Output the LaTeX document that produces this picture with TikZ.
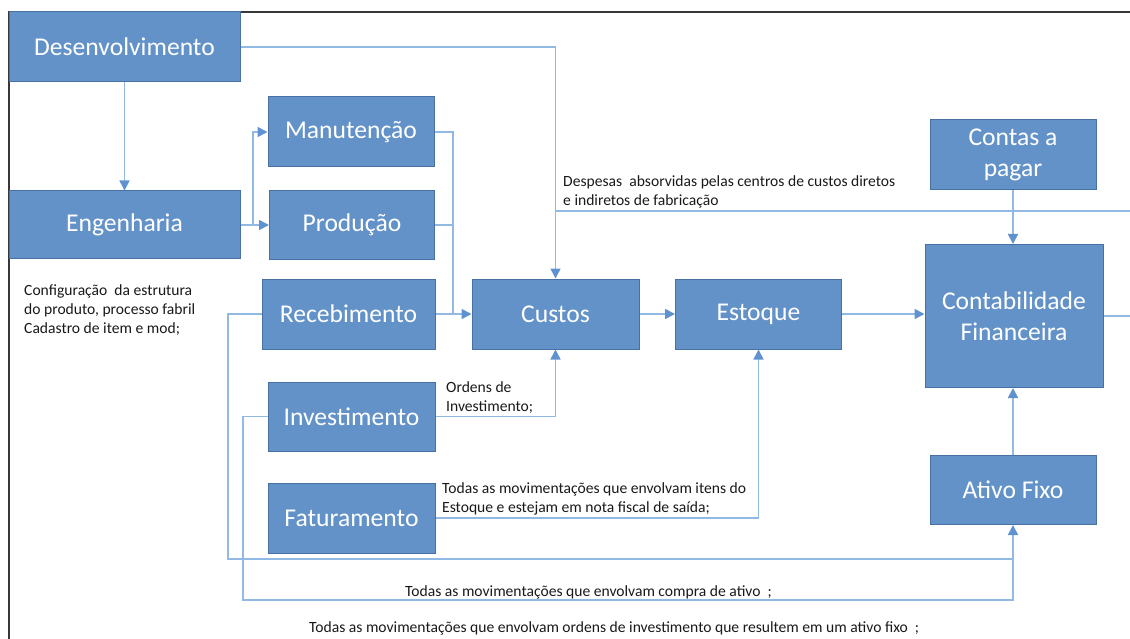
\documentclass[tikz,border=0pt]{standalone}
\usepackage{fontspec}
\setmainfont{Carlito}
\usetikzlibrary{arrows.meta}
\definecolor{boxfill}{RGB}{99,146,201}
\definecolor{boxedge}{RGB}{72,112,162}
\definecolor{connc}{RGB}{146,184,228}
\definecolor{tipc}{RGB}{96,146,208}
\definecolor{framec}{RGB}{55,55,55}
\definecolor{lblc}{RGB}{25,25,25}
\begin{document}
\begin{tikzpicture}[x=1pt,y=-1pt,
  box/.style={draw=boxedge, line width=1pt, fill=boxfill, text=white,
    font=\fontsize{25.6}{30.5}\selectfont, align=center, inner sep=0pt},
  conn/.style={draw=connc, line width=1.6pt},
  arr/.style={conn, -{Triangle[length=10pt,width=10pt,color=tipc,fill=tipc]}},
  lbl/.style={text=lblc, font=\fontsize{15.6}{18.8}\selectfont, align=left,
    inner sep=0pt, anchor=north west}
]
\useasboundingbox (0,0) rectangle (1130,639);
% frame
\coordinate (f1) at (9,639);
\coordinate (f2) at (9,12);
\coordinate (f3) at (1130,12);
\draw[framec, line width=1.3pt] (f1) -- (f2) -- (f3);

% boxes
\node[box, minimum width=231pt, minimum height=70pt] (des) at (124.5,47) {Desenvolvimento};
\node[box, minimum width=231pt, minimum height=68pt] (eng) at (124.5,225) {Engenharia};
\node[box, minimum width=166pt, minimum height=70pt] (man) at (351,132) {Manutenção};
\node[box, minimum width=165pt, minimum height=69pt] (pro) at (352,225) {Produção};
\node[box, minimum width=173pt, minimum height=70pt] (rec) at (348.5,314) {Recebimento};
\node[box, minimum width=167pt, minimum height=70pt] (cus) at (555.5,314) {Custos};
\node[box, minimum width=166pt, minimum height=70pt] (est) at (758.5,314) {Estoque};
\node[box, minimum width=178pt, minimum height=143pt] (cf) at (1014,316) {Contabilidade\\Financeira};
\node[box, minimum width=166pt, minimum height=70pt] (cap) at (1013,155) {Contas a\\pagar};
\node[box, minimum width=166pt, minimum height=69pt] (atf) at (1013,490) {Ativo Fixo};
\node[box, minimum width=167pt, minimum height=69pt] (inv) at (351.5,416.5) {Investimento};
\node[box, minimum width=167pt, minimum height=70pt] (fat) at (351.5,518) {Faturamento};

% helper coordinates
\coordinate (dj) at (555.5,211);
\coordinate (re1) at (1130,211);
\coordinate (re2) at (1130,316);
\coordinate (ej) at (253,225);
\coordinate (cj) at (453,314);
\coordinate (rl) at (228,559);
\coordinate (il) at (243,600);
\coordinate (aj) at (1013,559);

% connectors
\draw[arr] (des.east) -| (cus.north);
\draw[conn] (dj) -- (re1);
\draw[arr] (des.south) -- (eng.north);
\draw[arr] (eng.east) -- (pro.west);
\draw[arr] (ej) |- (man.west);
\draw[conn] (man.east) -| (cj);
\draw[conn] (pro.east) -| (cj);
\draw[arr] (rec.east) -- (cus.west);
\draw[arr] (cus.east) -- (est.west);
\draw[arr] (est.east) -- (est.east -| cf.west);
\draw[conn] (cf.east) -- (re2);
\draw[arr] (cap.south) -- (cap.south |- cf.north);
\draw[arr] (atf.north) -- (atf.north |- cf.south);
\draw[arr] (inv.east) -| (cus.south);
\draw[arr] (fat.east) -| (est.south);
\draw[arr] (rec.west) -| (rl) -| (atf.south);
\draw[conn] (inv.west) -| (il) -| (aj);

% labels
\node[lbl] (l1) at (563,175.5) {Despesas~ absorvidas pelas centros de custos diretos\\e indiretos de fabricação};
\node[lbl] (l2) at (24,284.5) {Configuração~ da estrutura\\do produto, processo fabril\\Cadastro de item e mod;};
\node[lbl] (l3) at (446,381.5) {Ordens de\\Investimento;};
\node[lbl] (l4) at (442,482.5) {Todas as movimentações que envolvam itens do\\Estoque e estejam em nota fiscal de saída;};
\node[lbl] (l5) at (405,585.5) {Todas as movimentações que envolvam compra de ativo~ ;};
\node[lbl] (l6) at (309,621.5) {Todas as movimentações que envolvam ordens de investimento que resultem em um ativo fixo~ ;};
\end{tikzpicture}
\end{document}
